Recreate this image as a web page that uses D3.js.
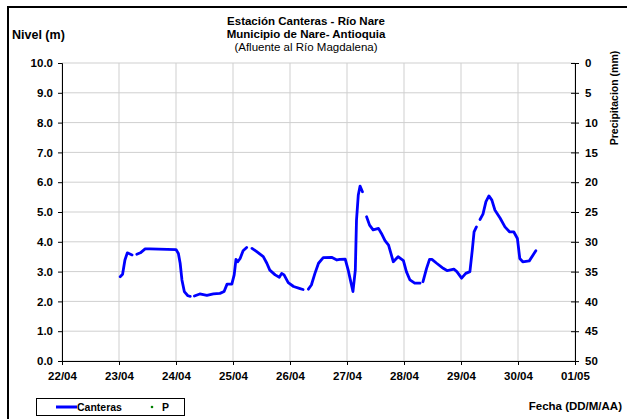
<!DOCTYPE html>
<html lang="es">
  <head>
    <meta charset="UTF-8" />
    <script src="https://d3js.org/d3.v7.min.js"></script>
    <title>Estación Canteras</title>
    <style>
      body { margin: 0; background: #fff; }
      text { font-family: "Liberation Sans", Arial, sans-serif; }
    </style>
  </head>
  <body>
    <div id="chart"></div>
    <script>
      // datos (nivel en m, null = hueco en la serie)
      var fechas = [
        "23/04 00:30", "23/04 01:30", "23/04 02:30", "23/04 03:30", "23/04 05:30", "23/04 06:30",
        "23/04 07:30", "23/04 09:00", "23/04 11:00", "23/04 13:00", "24/04 00:00", "24/04 01:00",
        "24/04 01:45", "24/04 02:30", "24/04 03:30", "24/04 05:00", "24/04 06:00", "24/04 07:00",
        "24/04 07:45", "24/04 10:00", "24/04 13:00", "24/04 15:45", "24/04 18:30", "24/04 20:15",
        "24/04 21:30", "24/04 23:30", "25/04 00:30", "25/04 01:15", "25/04 02:00", "25/04 03:00",
        "25/04 04:15", "25/04 05:45", "25/04 07:00", "25/04 08:00", "25/04 10:00", "25/04 12:45",
        "25/04 14:15", "25/04 15:30", "25/04 17:45", "25/04 19:30", "25/04 20:30", "25/04 21:30",
        "25/04 23:15", "26/04 01:30", "26/04 04:15", "26/04 05:30", "26/04 06:30", "26/04 07:45",
        "26/04 09:00", "26/04 10:30", "26/04 12:00", "26/04 14:00", "26/04 17:30", "26/04 19:45",
        "26/04 21:00", "26/04 23:15", "27/04 00:30", "27/04 02:30", "27/04 03:30", "27/04 04:00",
        "27/04 04:45", "27/04 05:30", "27/04 06:30", "27/04 07:30", "27/04 08:15", "27/04 09:30",
        "27/04 11:00", "27/04 13:15", "27/04 14:30", "27/04 16:00", "27/04 17:30", "27/04 19:30",
        "27/04 21:30", "27/04 23:45", "28/04 01:00", "28/04 02:30", "28/04 04:30", "28/04 06:45",
        "28/04 07:30", "28/04 08:00", "28/04 09:30", "28/04 10:45", "28/04 11:45", "28/04 13:45",
        "28/04 16:30", "28/04 18:15", "28/04 21:00", "28/04 22:15", "29/04 00:15", "29/04 02:00",
        "29/04 03:45", "29/04 04:45", "29/04 05:30", "29/04 06:30", "29/04 07:15", "29/04 08:00",
        "29/04 09:15", "29/04 10:30", "29/04 11:45", "29/04 13:00", "29/04 14:15", "29/04 16:30",
        "29/04 18:30", "29/04 20:30", "29/04 22:15", "29/04 23:45", "30/04 00:45", "30/04 02:00",
        "30/04 04:45", "30/04 07:30"
      ];
      var nivel = [
        2.83, 2.91, 3.39, 3.63, 3.56, null,
        3.58, 3.63, 3.76, 3.76, 3.74, 3.61,
        3.28, 2.72, 2.33, 2.19, 2.17, null,
        2.18, 2.25, 2.2, 2.25, 2.27, 2.33,
        2.58, 2.58, 2.89, 3.41, 3.33, 3.44,
        3.7, 3.81, null, 3.78, 3.67, 3.5,
        3.28, 3.05, 2.89, 2.81, 2.94, 2.89,
        2.63, 2.5, 2.43, 2.4, null, 2.41,
        2.55, 2.94, 3.28, 3.47, 3.48, 3.39,
        3.41, 3.42, 3.05, 2.33, 3.05, 4.73,
        5.57, 5.87, 5.68, null, 4.84, 4.56,
        4.4, 4.45, 4.28, 4.04, 3.89, 3.33,
        3.5, 3.37, 3.0, 2.72, 2.61, 2.61,
        null, 2.66, 3.11, 3.41, 3.41, 3.28,
        3.11, 3.03, 3.08, 3.0, 2.78, 2.94,
        3.0, 3.72, 4.33, 4.5, null, 4.75,
        4.93, 5.35, 5.54, 5.4, 5.07, 4.79,
        4.5, 4.33, 4.33, 4.11, 3.44, 3.33,
        3.36, 3.7
      ];
      // precipitacion: no se ve ningun punto en el grafico
      var precipitacion = [];
      var fechaInicio = "22/04 00:00",
        fechaFin = "01/05 00:00";
      var titulo = ["Estación Canteras - Río Nare", "Municipio de Nare- Antioquia", "(Afluente al Río Magdalena)"];

      var width = 627,
        height = 419,
        margin = { top: 63, right: 52, bottom: 58, left: 62 };

      var parse = d3.timeParse("%d/%m %H:%M");
      var datos = fechas.map(function (f, i) {
        return { fecha: parse(f), nivel: nivel[i] };
      });

      var svg = d3.select("#chart").append("svg")
        .attr("width", width)
        .attr("height", height);

      // marco del grafico
      svg.append("path")
        .attr("d", "M8," + height + "V7H" + width)
        .attr("fill", "none")
        .attr("stroke", "#000")
        .attr("stroke-width", 2);

      var x = d3.scaleTime()
        .domain([parse(fechaInicio), parse(fechaFin)])
        .range([margin.left, width - margin.right]);
      var y = d3.scaleLinear()
        .domain([0, 10])
        .range([height - margin.bottom, margin.top]);
      var yP = d3.scaleLinear()
        .domain([0, 50])
        .range([margin.top, height - margin.bottom]);

      var dias = x.ticks(d3.timeDay.every(1));

      // rejilla
      svg.append("g").selectAll("line.h").data(y.ticks(10)).enter()
        .append("line")
        .attr("x1", margin.left).attr("x2", width - margin.right)
        .attr("y1", function (d) { return y(d); })
        .attr("y2", function (d) { return y(d); })
        .attr("stroke", "#cfcfcf");
      svg.append("g").selectAll("line.v").data(dias).enter()
        .append("line")
        .attr("x1", function (d) { return x(d); })
        .attr("x2", function (d) { return x(d); })
        .attr("y1", margin.top).attr("y2", height - margin.bottom)
        .attr("stroke", "#cfcfcf");

      function estiloEje(g) {
        g.select(".domain").attr("stroke", "#000");
        g.selectAll(".tick line").attr("stroke", "#000");
        g.selectAll("text")
          .attr("font-family", "Liberation Sans, Arial, sans-serif")
          .attr("font-size", 11.5)
          .attr("font-weight", "bold")
          .attr("fill", "#000");
      }

      svg.append("g")
        .attr("transform", "translate(" + margin.left + ",0)")
        .call(d3.axisLeft(y).ticks(10).tickSizeOuter(0).tickSize(4).tickPadding(5).tickFormat(d3.format(".1f")))
        .call(estiloEje);

      var ejeDer = svg.append("g")
        .attr("transform", "translate(" + (width - margin.right) + ",0)")
        .call(d3.axisRight(yP).ticks(10).tickSizeOuter(0).tickSize(4).tickPadding(6))
        .call(estiloEje);
      ejeDer.selectAll(".tick line").attr("x1", -4);

      svg.append("g")
        .attr("transform", "translate(0," + (height - margin.bottom) + ")")
        .call(d3.axisBottom(x).tickValues(dias).tickSizeOuter(0).tickSize(4).tickPadding(7).tickFormat(d3.timeFormat("%d/%m")))
        .call(estiloEje);

      // serie de nivel
      var linea = d3.line()
        .defined(function (d) { return d.nivel !== null; })
        .x(function (d) { return x(d.fecha); })
        .y(function (d) { return y(d.nivel); });

      svg.append("path")
        .datum(datos)
        .attr("d", linea)
        .attr("fill", "none")
        .attr("stroke", "#0000ff")
        .attr("stroke-width", 2.8)
        .attr("stroke-linejoin", "round")
        .attr("stroke-linecap", "round");

      svg.append("g").selectAll("circle").data(precipitacion).enter()
        .append("circle")
        .attr("cx", function (d) { return x(parse(d.fecha)); })
        .attr("cy", function (d) { return yP(d.valor); })
        .attr("r", 1.5)
        .attr("fill", "#008000");

      // titulos
      svg.append("g").selectAll("text").data(titulo).enter()
        .append("text")
        .attr("x", 306)
        .attr("y", function (d, i) { return 25 + i * 13; })
        .attr("text-anchor", "middle")
        .attr("font-size", 11.5)
        .attr("font-weight", function (d, i) { return i < 2 ? "bold" : "normal"; })
        .text(function (d) { return d; });

      svg.append("text")
        .attr("x", 12).attr("y", 39)
        .attr("font-size", 12.5).attr("font-weight", "bold")
        .text("Nivel (m)");

      svg.append("text")
        .attr("transform", "translate(618,98) rotate(-90)")
        .attr("text-anchor", "middle")
        .attr("font-size", 10.5).attr("font-weight", "bold")
        .text("Precipitacion (mm)");

      svg.append("text")
        .attr("x", 622).attr("y", 410)
        .attr("text-anchor", "end")
        .attr("font-size", 11.5).attr("font-weight", "bold")
        .text("Fecha (DD/M/AA)");

      // leyenda
      var ley = svg.append("g");
      ley.append("rect")
        .attr("x", 36.5).attr("y", 398.5)
        .attr("width", 148).attr("height", 17)
        .attr("fill", "#fff").attr("stroke", "#000");
      ley.append("line")
        .attr("x1", 56).attr("x2", 77)
        .attr("y1", 407).attr("y2", 407)
        .attr("stroke", "#0000ff").attr("stroke-width", 3);
      ley.append("text")
        .attr("x", 77).attr("y", 411)
        .attr("font-size", 10.5).attr("font-weight", "bold")
        .text("Canteras");
      ley.append("circle")
        .attr("cx", 152).attr("cy", 407).attr("r", 1.3)
        .attr("fill", "#008000");
      ley.append("text")
        .attr("x", 162).attr("y", 411)
        .attr("font-size", 10.5).attr("font-weight", "bold")
        .text("P");
    </script>
  </body>
</html>
